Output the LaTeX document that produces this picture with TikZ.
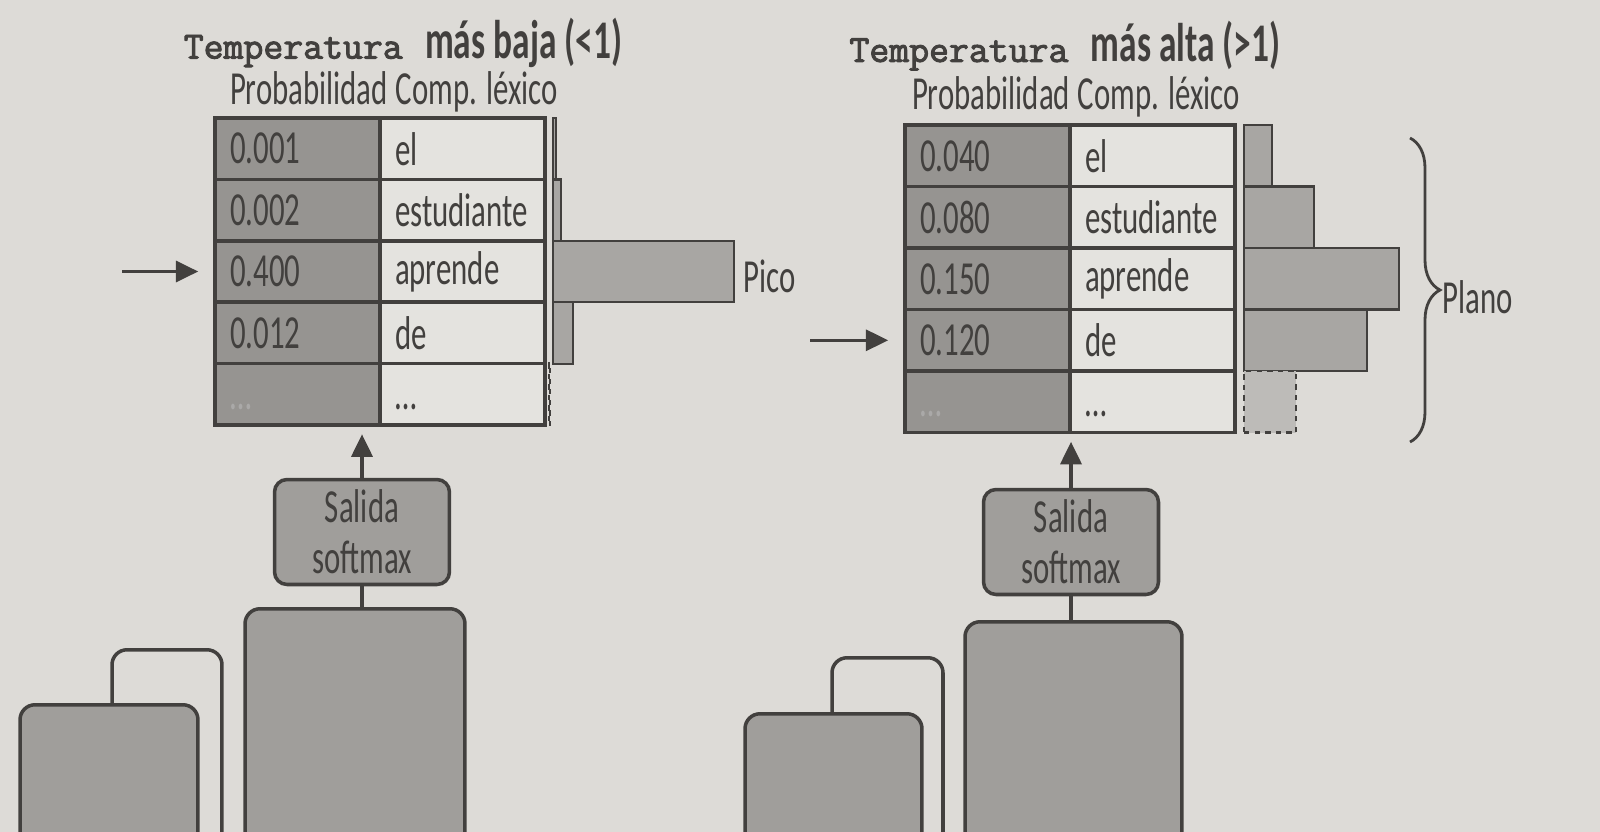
\documentclass[tikz,border=0pt]{standalone}
\usepackage{fontspec}
\setmainfont{Carlito}[FakeStretch=0.65]
\newfontfamily\titlett{Latin Modern Mono}[FakeBold=2.5]
\usetikzlibrary{arrows.meta, decorations.pathreplacing}
\definecolor{paper}{RGB}{221,219,215}
\definecolor{ink}{RGB}{66,64,62}
\definecolor{numfill}{RGB}{150,148,145}
\definecolor{wordfill}{RGB}{228,227,223}
\definecolor{barfill}{RGB}{168,166,163}
\definecolor{boxfill}{RGB}{160,158,155}

\begin{document}
\begin{tikzpicture}[x=0.02cm, y=-0.02cm,
  every node/.style={text=ink, font=\fontsize{27}{29}\selectfont},
  numcell/.style={draw=ink, line width=2pt, fill=numfill, minimum height=1.23cm,
    text width=2.7cm, inner xsep=0.3cm, align=left},
  wordcell/.style={numcell, fill=wordfill},
  bar/.style={draw=ink, line width=1.3pt, fill=barfill, minimum height=1.23cm,
    inner sep=0pt, anchor=west},
  softbox/.style={draw=ink, line width=2pt, fill=boxfill, rounded corners=0.25cm,
    minimum width=3.5cm, minimum height=2.1cm, inner ysep=0.1cm, align=center},
  blockbox/.style={draw=ink, line width=2pt, fill=boxfill, rounded corners=0.3cm,
    minimum height=6cm, anchor=north},
  openbox/.style={blockbox, fill=paper},
  ptr/.style={draw=ink, line width=2pt, -{Triangle[length=0.45cm, width=0.42cm]}}]

\useasboundingbox (0,0) rectangle (1600,832);
\clip (0,0) rectangle (1600,832);
\fill[paper] (0,0) rectangle (1600,832);

\node (titleA) at (403,43)
{{\fontsize{22}{24}\selectfont\titlett Temperatura}\hspace{0.45cm}{\fontsize{31}{32}\selectfont\bfseries más baja (<1)}};
\node (headA) at (394,92) {Probabilidad\,Comp. léxico};

\node (numA1) at (297.5,148.7) [numcell] {0.001};
\node (wordA1) at (462.5,148.7) [wordcell] {el};
\node (numA2) at (297.5,210.1) [numcell] {0.002};
\node (wordA2) at (462.5,210.1) [wordcell] {estudiante};
\node (numA3) at (297.5,271.5) [numcell] {0.400};
\node (wordA3) at (462.5,271.5) [wordcell] {aprende};
\node (numA4) at (297.5,332.9) [numcell] {0.012};
\node (wordA4) at (462.5,332.9) [wordcell] {de};
\node (numA5) at (297.5,394.3) [numcell, text=ink!45] {\rule{0pt}{0.6cm}\dots};
\node (wordA5) at (462.5,394.3) [wordcell] {\rule{0pt}{0.6cm}\dots};

\node (barA1) at (552,148.7) [bar, minimum width=0.06cm] {};
\node (barA2) at (552,210.1) [bar, minimum width=0.16cm] {};
\node (barA3) at (552,271.5) [bar, minimum width=3.62cm] {};
\node (barA4) at (552,332.9) [bar, minimum width=0.4cm] {};
\node (barA5) at (548,394.3) [bar, dashed, fill=none, minimum width=0.02cm] {};
\node (pico) at (770,276) {Pico};

\coordinate (inA) at (122,271.5);
\draw[ptr, shorten >=0.3cm] (inA) -- (inA -| numA3.west);

\node (smA) at (362,532) [softbox] {Salida\\softmax};
\draw[ptr, shorten >=0.15cm] (smA.north) -- (smA.north |- numA5.south);

\node (openA) at (167,648) [openbox, minimum width=2.2cm] {};
\node (blockA) at (109,703) [blockbox, minimum width=3.56cm] {};
\node (bigA) at (355,607) [blockbox, minimum width=4.4cm] {};
\draw[draw=ink, line width=2pt] (smA.south) -- (smA.south |- bigA.north);

\node (titleB) at (1065,46)
{{\fontsize{22}{24}\selectfont\titlett Temperatura}\hspace{0.45cm}{\fontsize{31}{32}\selectfont\bfseries más alta (>1)}};
\node (headB) at (1076,97) {Probabilidad\,Comp. léxico};

\node (numB1) at (987.5,155.8) [numcell] {0.040};
\node (wordB1) at (1152.5,155.8) [wordcell] {el};
\node (numB2) at (987.5,217.3) [numcell] {0.080};
\node (wordB2) at (1152.5,217.3) [wordcell] {estudiante};
\node (numB3) at (987.5,278.8) [numcell] {0.150};
\node (wordB3) at (1152.5,278.8) [wordcell] {aprende};
\node (numB4) at (987.5,340.3) [numcell] {0.120};
\node (wordB4) at (1152.5,340.3) [wordcell] {de};
\node (numB5) at (987.5,401.8) [numcell, text=ink!45] {\rule{0pt}{0.6cm}\dots};
\node (wordB5) at (1152.5,401.8) [wordcell] {\rule{0pt}{0.6cm}\dots};

\node (barB1) at (1243,155.8) [bar, minimum width=0.56cm] {};
\node (barB2) at (1243,217.3) [bar, minimum width=1.4cm] {};
\node (barB3) at (1243,278.8) [bar, minimum width=3.1cm] {};
\node (barB4) at (1243,340.3) [bar, minimum width=2.46cm] {};
\node (barB5) at (1243,401.8) [bar, dashed, fill=barfill!60!paper, minimum width=1.04cm] {};

\coordinate (braceTop) at (1410,138);
\coordinate (braceBot) at (1410,442);
\draw[draw=ink, line width=1.6pt, decorate, decoration={brace, amplitude=0.6cm}] (braceTop) -- (braceBot);
\node (plano) at (1478,297) {Plano};

\coordinate (inB) at (810,340.3);
\draw[ptr, shorten >=0.3cm] (inB) -- (inB -| numB4.west);

\node (smB) at (1071,542) [softbox] {Salida\\softmax};
\draw[ptr, shorten >=0.15cm] (smB.north) -- (smB.north |- numB5.south);

\node (openB) at (887.5,656) [openbox, minimum width=2.22cm] {};
\node (blockB) at (833.5,712) [blockbox, minimum width=3.54cm] {};
\node (bigB) at (1073.5,620) [blockbox, minimum width=4.34cm] {};
\draw[draw=ink, line width=2pt] (smB.south) -- (smB.south |- bigB.north);

\end{tikzpicture}
\end{document}
